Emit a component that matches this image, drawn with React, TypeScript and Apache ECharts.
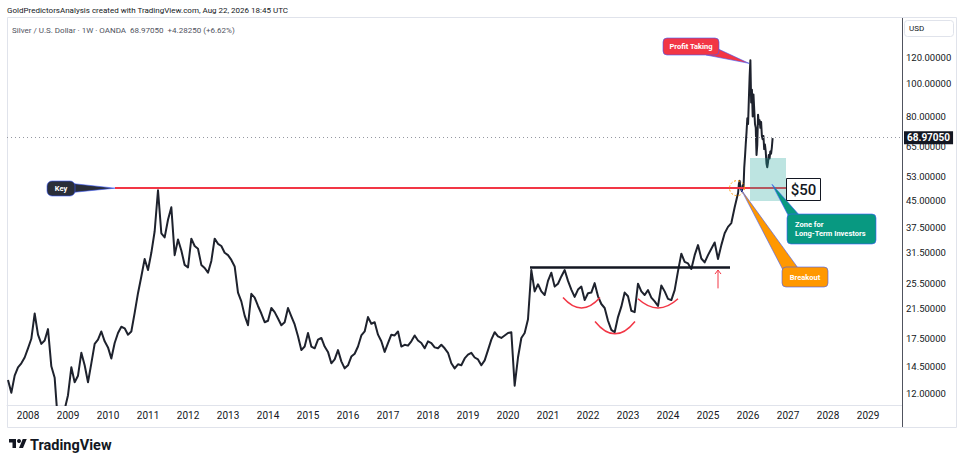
import React, { useEffect, useRef } from "react";
import * as echarts from "echarts";

const FONT = "Roboto, 'Noto Sans', 'Liberation Sans', Arial, sans-serif";

// ---- axis ticks ----
const yearTicks = [2008, 2009, 2010, 2011, 2012, 2013, 2014, 2015, 2016, 2017, 2018, 2019, 2020, 2021, 2022, 2023, 2024, 2025, 2026, 2027, 2028, 2029];
const priceTicks = [12, 14.5, 17.5, 21.5, 25.5, 31.5, 37.5, 45, 53, 65, 80, 100, 120];

// ---- monthly closes, XAG/USD ----
const prices2007 = [13.2, 12.1, 13.6, 14.4, 14.8, 15.4]; // Jul-Dec
const prices2008 = [16.4, 17.5, 20.8, 18.0, 16.9, 17.3, 18.7, 14.5, 13.4, 9.8, 10.0, 10.8];
const prices2009 = [11.9, 14.4, 13.0, 13.6, 15.9, 14.6, 13.0, 14.8, 16.9, 17.4, 18.4, 17.2];
const prices2010 = [16.5, 15.3, 17.0, 18.2, 19.0, 18.8, 18.0, 18.4, 20.9, 23.9, 26.8, 30.2];
const prices2011 = [28.0, 31.5, 36.5, 48.3, 36.0, 35.0, 39.5, 43.0, 31.0, 34.5, 32.0, 29.0];
const prices2012 = [28.5, 34.7, 33.0, 32.4, 29.0, 28.4, 27.5, 29.8, 34.7, 33.5, 33.0, 31.5];
const prices2013 = [31.0, 30.0, 28.7, 24.0, 22.6, 20.5, 19.2, 23.8, 23.2, 21.9, 20.8, 19.6];
const prices2014 = [19.8, 21.6, 21.0, 20.1, 19.2, 19.6, 21.6, 20.4, 19.3, 17.8, 16.2, 16.6];
const prices2015 = [18.2, 16.6, 16.4, 17.4, 17.6, 16.6, 16.0, 14.8, 15.2, 16.2, 15.0, 14.3];
const prices2016 = [14.6, 15.5, 15.8, 16.6, 17.9, 18.4, 20.3, 19.4, 19.6, 18.0, 17.2, 16.0];
const prices2017 = [17.0, 18.0, 17.9, 18.4, 16.6, 16.8, 16.7, 17.2, 17.9, 17.3, 17.0, 16.4];
const prices2018 = [17.2, 17.0, 16.5, 16.4, 16.8, 16.4, 15.9, 14.8, 14.3, 14.7, 14.6, 15.3];
const prices2019 = [15.7, 15.9, 15.4, 15.2, 14.6, 15.1, 16.2, 17.4, 18.3, 17.8, 17.6, 17.9];
const prices2020 = [18.2, 18.3, 12.7, 15.4, 17.6, 18.2, 20.0, 28.0, 24.2, 25.4, 24.2, 23.6];
const prices2021 = [26.0, 27.5, 25.0, 25.5, 26.8, 28.0, 26.0, 24.5, 23.3, 24.5, 25.0, 22.8];
const prices2022 = [23.9, 24.0, 25.6, 23.4, 22.2, 21.6, 19.8, 18.6, 18.3, 20.3, 21.8, 24.0];
const prices2023 = [23.4, 21.2, 21.0, 25.5, 24.2, 23.6, 24.4, 23.2, 22.6, 21.9, 25.2, 24.2];
const prices2024 = [23.0, 22.8, 24.4, 27.8, 31.3, 29.6, 29.3, 28.2, 31.0, 33.2, 30.3, 29.5];
const prices2025 = [31.0, 32.4, 33.8, 30.2, 33.2, 36.0, 37.6, 38.6, 43.0]; // Jan-Sep

// ---- weekly closes from 2025-10-03 ----
const weeklyStart = 2025.753;
const weeklyPrices = [47.5, 50.5, 51.5, 49.0, 48.5, 48.0, 50.0, 49.0, 56.5, 61.0, 66.5, 72.0, 79.0, 76.0, 90.0, 105.0, 117.5, 88.0, 96.0, 80.0, 93.0, 84.0, 76.0, 74.0, 61.5, 66.0, 81.0, 76.0, 78.0, 74.0, 77.0, 70.0, 68.5, 70.0, 64.0, 66.0, 63.0, 58.0, 56.5, 58.5, 61.5, 60.0, 63.0, 62.0, 64.7, 68.9705];

// ---- annotation levels ----
const lastPrice = 68.9705;
const keyLevel = 49.0;
const necklineLevel = 28.6;
const zoneLow = 44.9;
const zoneHigh = 60.2;

const X_MIN = 2007.475;
const X_MAX = 2029.85;
const Y_MIN = 11.13;
const Y_MAX = 156.8;

const L = (v: number) => Math.log10(v);

const monthlyByYear: [number, number[]][] = [
  [2007, prices2007], [2008, prices2008], [2009, prices2009], [2010, prices2010], [2011, prices2011],
  [2012, prices2012], [2013, prices2013], [2014, prices2014], [2015, prices2015], [2016, prices2016],
  [2017, prices2017], [2018, prices2018], [2019, prices2019], [2020, prices2020], [2021, prices2021],
  [2022, prices2022], [2023, prices2023], [2024, prices2024], [2025, prices2025],
];

function buildSeries(): [number, number][] {
  const pts: [number, number][] = [];
  monthlyByYear.forEach(([yr, arr]) => {
    const off = yr === 2007 ? 6 : 0;
    arr.forEach((p, i) => pts.push([yr + (off + i) / 12, L(p)]));
  });
  weeklyPrices.forEach((p, w) => pts.push([weeklyStart + (w * 7) / 365.25, L(p)]));
  return pts;
}

const TV_PATH = "M14 22H7V11H0V4h14v18zM28 22h-8l7.5-18h8L28 22z";
try {
  echarts.graphic.registerShape("tvlogo", echarts.graphic.extendPath(TV_PATH, {}) as any);
} catch (e) {}

export default function App() {
  const ref = useRef<HTMLDivElement>(null);
  useEffect(() => {
    const el = ref.current!;
    const chart = echarts.init(el, null, { renderer: "svg" });
    const data = buildSeries();
    chart.setOption({
      animation: false,
      backgroundColor: "#ffffff",
      textStyle: { fontFamily: FONT },
      grid: { left: 7, right: 62, top: 18, bottom: 61, containLabel: false },
      xAxis: {
        type: "value",
        min: X_MIN,
        max: X_MAX,
        axisLine: { show: true, lineStyle: { color: "#e0e3eb", width: 1 } },
        axisTick: { show: false },
        splitLine: { show: false },
        axisLabel: {
          customValues: yearTicks,
          formatter: (v: number) => String(Math.round(v)),
          color: "#131722",
          fontSize: 10,
          margin: 5,
          fontFamily: FONT,
        },
      },
      yAxis: {
        type: "value",
        position: "right",
        min: L(Y_MIN),
        max: L(Y_MAX),
        axisLine: { show: true, lineStyle: { color: "#50535e", width: 1 } },
        axisTick: { show: false },
        splitLine: { show: false },
        axisLabel: {
          customValues: priceTicks.map(L),
          formatter: (v: number) => Math.pow(10, v).toFixed(5),
          color: "#131722",
          fontSize: 9.5,
          margin: 4,
          fontFamily: FONT,
        },
      },
      series: [
        {
          type: "line",
          data,
          showSymbol: false,
          symbol: "none",
          clip: true,
          z: 3,
          lineStyle: { color: "#1e222d", width: 2, join: "round" },
          markLine: {
            silent: true,
            symbol: "none",
            animation: false,
            data: [
              [
                { coord: [2010.175, L(keyLevel)], lineStyle: { color: "#f23645", width: 2, type: "solid" }, label: { show: false } },
                { coord: [2026.95, L(keyLevel)] },
              ],
              [
                { coord: [2020.55, L(necklineLevel)], lineStyle: { color: "#131722", width: 2.5, type: "solid" }, label: { show: false } },
                { coord: [2025.55, L(necklineLevel)] },
              ],
              {
                yAxis: L(lastPrice),
                lineStyle: { color: "#9598a1", width: 1, type: [1, 3] },
                label: {
                  show: true,
                  position: "end",
                  distance: 2,
                  formatter: lastPrice.toFixed(5),
                  color: "#ffffff",
                  backgroundColor: "#131722",
                  padding: [2, 3, 1, 3],
                  fontSize: 10,
                  fontWeight: "bold",
                  fontFamily: FONT,
                },
              },
            ],
          },
        },
      ],
    });

    const P = (x: number, p: number) => chart.convertToPixel({ gridIndex: 0 }, [x, L(p)]) as number[];
    const blue = "#3d5afe";
    const txt = (text: string, x: number, y: number, size: number, color: string, weight: string, align: string, z = 20) => ({
      type: "text",
      z,
      silent: true,
      style: {
        text, x, y, fill: color, fontSize: size, fontWeight: weight, fontFamily: FONT,
        align, textAlign: align, verticalAlign: "middle", textVerticalAlign: "middle",
      },
    });

    const arc = (x1: number, x2: number, pEnd: number, pBottom: number) => {
      const a = P(x1, pEnd);
      const b = P(x2, pEnd);
      const bottom = P((x1 + x2) / 2, pBottom);
      const cy = 2 * bottom[1] - a[1];
      return {
        type: "bezierCurve",
        z: 15,
        silent: true,
        shape: { x1: a[0], y1: a[1], x2: b[0], y2: b[1], cpx1: (a[0] + b[0]) / 2, cpy1: cy },
        style: { stroke: "#f23645", lineWidth: 1.5, fill: "none" },
      };
    };

    const keyTip = P(2010.175, keyLevel);
    const profitTip = P(2026.025, 115);
    const zoneTip = P(2026.6, 50.3);
    const breakTip = P(2025.825, 48.6);
    const circ = P(2025.725, keyLevel);
    const arrowBase = P(2025.25, 24.7);
    const arrowTip = P(2025.25, 28.0);
    const zoneA = P(2026.05, zoneHigh);
    const zoneB = P(2026.95, zoneLow);

    const graphic: any[] = [
      // panel frame
      { type: "rect", z: 1, silent: true, shape: { x: 7.5, y: 17.5, width: 949, height: 410 }, style: { fill: "none", stroke: "#e0e3eb", lineWidth: 1 } },
      { type: "line", z: 1, silent: true, shape: { x1: 902.5, y1: 405, x2: 902.5, y2: 427 }, style: { stroke: "#50535e", lineWidth: 1 } },
      // long-term zone
      { type: "rect", z: 14, silent: true, shape: { x: zoneA[0], y: zoneA[1], width: zoneB[0] - zoneA[0], height: zoneB[1] - zoneA[1] }, style: { fill: "rgba(38,166,154,0.3)" } },
      // headers
      txt("GoldPredictorsAnalysis created with TradingView.com, Aug 22, 2026 18:45 UTC", 7, 10, 8, "#131722", "normal", "left"),
      txt("Silver / U.S. Dollar · 1W · OANDA  68.97050  +4.28250 (+6.62%)", 12, 30, 8, "#50535e", "normal", "left"),
      { type: "rect", z: 19, silent: true, shape: { x: 904.5, y: 20.5, width: 49, height: 16, r: 3 }, style: { fill: "#fff", stroke: "#e0e3eb", lineWidth: 1 } },
      txt("USD", 909, 28.5, 8, "#131722", "normal", "left"),
      // Key callout
      { type: "polygon", z: 16, silent: true, shape: { points: [[72, 183.5], [72, 192.5], keyTip] }, style: { fill: "#2a2e39", stroke: blue, lineWidth: 0.6 } },
      { type: "rect", z: 17, silent: true, shape: { x: 47, y: 181, width: 28, height: 15, r: 5 }, style: { fill: "#2a2e39", stroke: blue, lineWidth: 0.6 } },
      txt("Key", 61, 188.5, 7.5, "#ffffff", "bold", "center"),
      // Profit Taking callout
      { type: "polygon", z: 16, silent: true, shape: { points: [[714, 47], [706, 55], profitTip] }, style: { fill: "#f23645", stroke: blue, lineWidth: 0.6 } },
      { type: "rect", z: 17, silent: true, shape: { x: 663, y: 38, width: 56, height: 17, r: 4 }, style: { fill: "#f23645", stroke: blue, lineWidth: 0.6 } },
      txt("Profit Taking", 691, 46.5, 7.5, "#ffffff", "bold", "center"),
      // $50 box
      { type: "rect", z: 17, silent: true, shape: { x: 786.5, y: 178.5, width: 34, height: 22 }, style: { fill: "#ffffff", stroke: "#131722", lineWidth: 1 } },
      txt("$50", 803.5, 190, 15, "#131722", "500", "center"),
      // Zone callout
      { type: "polygon", z: 16, silent: true, shape: { points: [zoneTip, [789, 217], [801, 217]] }, style: { fill: "#089981", stroke: blue, lineWidth: 0.6 } },
      { type: "rect", z: 17, silent: true, shape: { x: 787, y: 214, width: 89, height: 30, r: 4 }, style: { fill: "#089981", stroke: blue, lineWidth: 0.6 } },
      txt("Zone for", 795, 224.5, 7.5, "#ffffff", "bold", "left"),
      txt("Long-Term Investors", 795, 233.5, 7.5, "#ffffff", "bold", "left"),
      // Breakout callout
      { type: "polygon", z: 16, silent: true, shape: { points: [breakTip, [784, 272], [798, 268]] }, style: { fill: "#ff9800", stroke: blue, lineWidth: 0.6 } },
      { type: "rect", z: 17, silent: true, shape: { x: 782, y: 267, width: 46, height: 20, r: 4 }, style: { fill: "#ff9800", stroke: blue, lineWidth: 0.6 } },
      txt("Breakout", 805, 277.5, 7.5, "#ffffff", "bold", "center"),
      // breakout circle
      { type: "circle", z: 15, silent: true, shape: { cx: circ[0], cy: circ[1], r: 7.5 }, style: { fill: "none", stroke: "#ff9800", lineWidth: 1, lineDash: [2, 2] } },
      // cup arcs
      arc(2021.375, 2022.3, 23.2, 21.6),
      arc(2022.175, 2023.175, 19.7, 18.1),
      arc(2023.25, 2024.25, 23.0, 21.6),
      // red arrow
      { type: "line", z: 15, silent: true, shape: { x1: arrowBase[0], y1: arrowBase[1], x2: arrowTip[0], y2: arrowTip[1] }, style: { stroke: "#f23645", lineWidth: 1 } },
      { type: "polyline", z: 15, silent: true, shape: { points: [[arrowTip[0] - 3, arrowTip[1] + 4], arrowTip, [arrowTip[0] + 3, arrowTip[1] + 4]] }, style: { stroke: "#f23645", lineWidth: 1, fill: "none" } },
      // TradingView logo
      { type: "tvlogo", z: 20, silent: true, x: 9, y: 437, scaleX: 0.5, scaleY: 0.5, style: { fill: "#131722" } },
      { type: "circle", z: 20, silent: true, shape: { cx: 9 + 20 * 0.5, cy: 437 + 8 * 0.5, r: 2 }, style: { fill: "#131722" } },
      txt("TradingView", 30, 445.5, 14.5, "#131722", "bold", "left"),
    ];
    chart.setOption({ graphic });
    return () => chart.dispose();
  }, []);
  return (
    <div style={{ position: "fixed", left: 0, top: 0, width: 964, height: 466, background: "#ffffff" }}>
      <div ref={ref} style={{ width: 964, height: 466 }} />
    </div>
  );
}
